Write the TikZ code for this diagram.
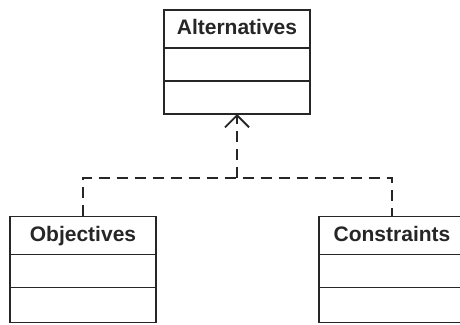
\documentclass[tikz,border=0pt]{standalone}
\usepackage{fontspec}
\setmainfont{Liberation Sans}
\usetikzlibrary{arrows.meta,positioning,calc}
\tikzset{
    line color/.style={black!85},
    class title/.style={draw,line color,line width=1.4pt,fill=white,
        minimum width=146pt,minimum height=38pt,outer sep=0pt,inner sep=0pt,
        text height=15pt,text depth=4pt,
        font=\fontsize{21}{24}\selectfont\bfseries},
    class part/.style={draw,line color,line width=1.4pt,fill=white,
        minimum width=146pt,minimum height=33pt,outer sep=0pt,inner sep=0pt},
    depends/.style={line color,line width=1.8pt,dash pattern=on 11pt off 7pt},
    opentip/.style={-{Straight Barb[length=12pt,width=24pt,line width=1.8pt]}},
}

\begin{document}
\begin{tikzpicture}[x=1pt,y=1pt]
        \useasboundingbox (0,0) rectangle (460,324);

        % top class
        \node[class title] (alt) at (237,295) {Alternatives};
        \node[class part,below=0pt of alt] (alt-attr) {};
        \node[class part,below=0pt of alt-attr] (alt-ops) {};

        % bottom classes
        \node[class title] (obj) at (83,88.5) {Objectives};
        \node[class part,below=0pt of obj] (obj-attr) {};
        \node[class part,below=0pt of obj-attr,minimum height=35pt] (obj-ops) {};

        \node[class title] (con) at (392,88.5) {Constraints};
        \node[class part,below=0pt of con] (con-attr) {};
        \node[class part,below=0pt of con-attr,minimum height=35pt] (con-ops) {};

        % dependency lines
        \coordinate (join) at ($(alt-ops.south)+(0,-64)$);
        \draw[depends] (obj.north) |- (join) -| (con.north);
        \draw[depends,opentip] (join) -- (alt-ops.south);
    \end{tikzpicture}
\end{document}
